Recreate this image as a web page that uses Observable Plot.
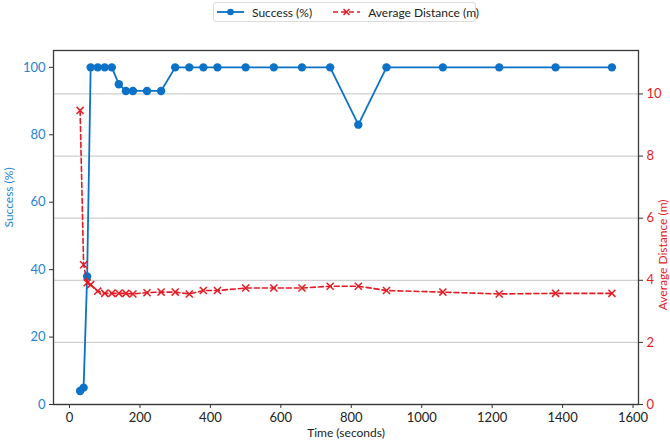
<!DOCTYPE html>
<html>
<head>
<meta charset="utf-8">
<script src="https://cdn.jsdelivr.net/npm/d3@7"></script>
<script src="https://cdn.jsdelivr.net/npm/@observablehq/plot@0.6"></script>
<style>
  html, body { margin: 0; padding: 0; background: #fff; }
  body { width: 670px; height: 444px; position: relative; font-family: Lato, "Open Sans", sans-serif; }
  #legend {
    position: absolute; left: 213px; top: 2px; width: 263px; height: 20px;
    border: 1px solid #dcdcdc; border-radius: 3px; box-sizing: border-box;
    display: flex; align-items: center; font-size: 12px; color: #222; background: #fff;
    white-space: nowrap;
  }
  #legend .item { display: flex; align-items: center; white-space: nowrap; }
  #legend svg { display: block; flex: none; }
  #chart { position: absolute; left: 0; top: 30px; }
</style>
</head>
<body>
<div id="legend"></div>
<div id="chart"></div>
<script>
// ---- data ----
const time = [30, 40, 50, 60, 80, 100, 120, 140, 160, 180, 220, 260, 300, 340, 380, 420, 500, 580, 660, 740, 820, 900, 1060, 1220, 1380, 1540];
const success = [4, 5, 38, 100, 100, 100, 100, 95, 93, 93, 93, 93, 100, 100, 100, 100, 100, 100, 100, 100, 83, 100, 100, 100, 100, 100];
const distance = [9.47, 4.5, 3.92, 3.86, 3.65, 3.58, 3.58, 3.58, 3.58, 3.56, 3.6, 3.62, 3.62, 3.56, 3.67, 3.67, 3.75, 3.75, 3.75, 3.81, 3.81, 3.67, 3.62, 3.56, 3.58, 3.58];
const xTicks = [0, 200, 400, 600, 800, 1000, 1200, 1400, 1600];
const successTicks = [0, 20, 40, 60, 80, 100];
const distanceTicks = [0, 2, 4, 6, 8, 10];
const seriesNames = ["Success (%)", "Average Distance (m)"];
const xLabel = "Time (seconds)";

const BLUE = "#0b72c8";
const BLUE_TEXT = "#2583d3";
const RED = "#e31b23";
const successMax = 105;
const distanceMax = 11.4;
const k = successMax / distanceMax;

const rows = time.map((t, i) => ({t, s: success[i], d: distance[i]}));

// ---- legend ----
const legend = document.getElementById("legend");
legend.innerHTML = `
  <div class="item" style="margin-left:3px">
    <svg width="27" height="10"><line x1="0" y1="5" x2="27" y2="5" stroke="${BLUE}" stroke-width="1.8"/><circle cx="13.5" cy="5" r="3.3" fill="${BLUE}"/></svg>
    <span style="margin-left:8px">${seriesNames[0]}</span>
  </div>
  <div class="item" style="margin-left:21px">
    <svg width="27" height="10"><line x1="0" y1="5" x2="27" y2="5" stroke="${RED}" stroke-width="1.6" stroke-dasharray="5,3"/><path d="M10.5,2L16.5,8M16.5,2L10.5,8" stroke="${RED}" stroke-width="1.5"/></svg>
    <span style="margin-left:8px">${seriesNames[1]}</span>
  </div>`;

// ---- chart ----
const chart = Plot.plot({
  width: 670,
  height: 414,
  marginLeft: 53,
  marginRight: 32,
  marginTop: 20,
  marginBottom: 40,
  style: {fontFamily: "Lato, 'Open Sans', sans-serif", fontSize: "12px", background: "#fff"},
  x: {domain: [-45.5, 1615.5]},
  y: {domain: [0, successMax]},
  marks: [
    Plot.gridY(distanceTicks.map(d => d * k), {stroke: "#cfcfcf", strokeOpacity: 1, strokeWidth: 1.3}),
    Plot.axisX(xTicks, {tickSize: 4, tickPadding: 4, stroke: "#333", fill: "#222", fontSize: 13,
      tickFormat: d => String(d), label: null}),
    Plot.text([xLabel], {frameAnchor: "bottom", dy: 32, fill: "#222", fontSize: 12}),
    Plot.axisY(successTicks, {anchor: "left", tickSize: 4, tickPadding: 4, stroke: "#333", fill: BLUE_TEXT, fontSize: 13,
      label: null}),
    Plot.text([seriesNames[0]], {frameAnchor: "left", dx: -44, rotate: -90, fill: BLUE_TEXT, fontSize: 12}),
    Plot.axisY(distanceTicks.map(d => d * k), {anchor: "right", tickSize: 4, tickPadding: 4, stroke: "#333", fill: RED, fontSize: 13,
      tickFormat: v => String(Math.round(v / k)), label: null}),
    Plot.text([seriesNames[1]], {frameAnchor: "right", dx: 25, dy: -28, rotate: -90, fill: RED, fontSize: 12}),
    Plot.line(rows, {x: "t", y: "s", stroke: BLUE, strokeWidth: 1.8}),
    Plot.dot(rows, {x: "t", y: "s", r: 4.2, fill: BLUE}),
    Plot.line(rows, {x: "t", y: d => d.d * k, stroke: RED, strokeWidth: 1.6, strokeDasharray: "5,3"}),
    Plot.dot(rows, {x: "t", y: d => d.d * k, symbol: "times", r: 3.3, stroke: RED, strokeWidth: 1.5}),
    Plot.frame({stroke: "#3a3a3a", strokeWidth: 1.3})
  ]
});
document.getElementById("chart").appendChild(chart);
</script>
</body>
</html>
